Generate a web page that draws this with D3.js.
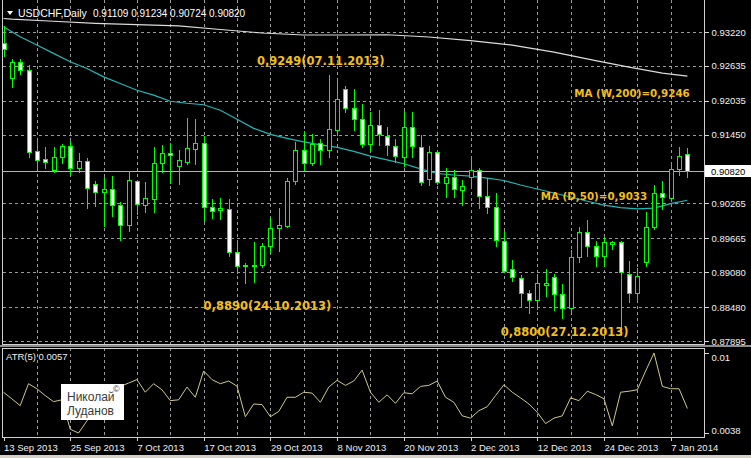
<!DOCTYPE html>
<meta charset="utf-8">
<style>
 body { margin: 0; background: #000; }
 .chart { display: block; font-family: "Liberation Sans", Arial, sans-serif; }
 .grid line { stroke: #9a9a9a; stroke-dasharray: 3,3; shape-rendering: crispEdges; }
 .axis text { fill: #f2f2f2; font-size: 9.5px; font-family: "Liberation Sans", Arial, sans-serif; }
 .axis line { stroke: #d8d8d8; shape-rendering: crispEdges; }
 .axis path { display: none; }
 .frame { stroke: #d0d0d0; fill: none; shape-rendering: crispEdges; }
 .wick, .body { stroke: #00ff00; shape-rendering: crispEdges; }
 .note { fill: #f2bf1c; font-family: "DejaVu Sans", sans-serif; font-weight: bold; }
</style>

<svg class="chart"></svg>

<script src="https://cdn.jsdelivr.net/npm/d3@7"></script>

<script>
 // USDCHF daily, 13 Sep 2013 - 9 Jan 2014
 var dates = [
  "2013-09-13","2013-09-16","2013-09-17","2013-09-18","2013-09-19","2013-09-20","2013-09-23","2013-09-24","2013-09-25","2013-09-26","2013-09-27","2013-09-30",
  "2013-10-01","2013-10-02","2013-10-03","2013-10-04","2013-10-07","2013-10-08","2013-10-09","2013-10-10","2013-10-11","2013-10-14","2013-10-15","2013-10-16",
  "2013-10-17","2013-10-18","2013-10-21","2013-10-22","2013-10-23","2013-10-24","2013-10-25","2013-10-28","2013-10-29","2013-10-30","2013-10-31",
  "2013-11-01","2013-11-04","2013-11-05","2013-11-06","2013-11-07","2013-11-08","2013-11-11","2013-11-12","2013-11-13","2013-11-14","2013-11-15","2013-11-18",
  "2013-11-19","2013-11-20","2013-11-21","2013-11-22","2013-11-25","2013-11-26","2013-11-27","2013-11-28","2013-11-29",
  "2013-12-02","2013-12-03","2013-12-04","2013-12-05","2013-12-06","2013-12-09","2013-12-10","2013-12-11","2013-12-12","2013-12-13","2013-12-16","2013-12-17",
  "2013-12-18","2013-12-19","2013-12-20","2013-12-23","2013-12-24","2013-12-26","2013-12-27","2013-12-30","2013-12-31",
  "2014-01-02","2014-01-03","2014-01-06","2014-01-07","2014-01-08","2014-01-09"];

 var open = [0.93030,0.92430,0.92696,0.92563,0.91162,0.91024,0.90834,0.91064,0.91249,0.90874,
  0.90995,0.90604,0.90459,0.90518,0.90241,0.89895,0.90644,0.90241,0.90345,0.90967,
  0.91128,0.90903,0.90977,0.91209,0.91306,0.90212,0.90160,0.90172,0.89433,0.89191,
  0.89191,0.89204,0.89525,0.89843,0.89871,0.90644,0.91180,0.90967,0.91313,0.91180,
  0.91526,0.92234,0.91911,0.91716,0.91296,0.91612,0.91427,0.91254,0.91064,0.91583,
  0.91237,0.90690,0.91150,0.90621,0.90718,0.90505,0.90718,0.90834,0.90402,0.90199,
  0.89624,0.89134,0.88989,0.88716,0.88600,0.88863,0.88996,0.88702,0.88465,0.89342,
  0.89767,0.89537,0.89352,0.89572,0.89606,0.89048,0.88719,0.89248,0.89854,0.90448,
  0.90355,0.90863,0.91109];

 var high = [0.93341,0.92765,0.92776,0.92662,0.91353,0.91254,0.91254,0.91306,0.91353,0.91150,
  0.91064,0.90678,0.90735,0.90748,0.90315,0.90834,0.90690,0.90644,0.91254,0.91296,
  0.91323,0.91197,0.91756,0.91745,0.91439,0.90355,0.90372,0.90355,0.89594,0.89248,
  0.89624,0.89594,0.90027,0.90199,0.90718,0.91335,0.91526,0.91486,0.91392,0.92490,
  0.92447,0.92304,0.92247,0.92005,0.91863,0.91889,0.91595,0.91392,0.91871,0.91854,
  0.91469,0.91278,0.91209,0.90891,0.90851,0.90690,0.91093,0.90891,0.90718,0.90459,
  0.89809,0.89307,0.89048,0.88789,0.89062,0.89148,0.89062,0.88897,0.89480,0.89871,
  0.89999,0.89641,0.89698,0.89641,0.89641,0.89295,0.89162,0.90142,0.90604,0.90661,
  0.90990,0.91254,0.91234];

 var low = [0.92805,0.92274,0.92489,0.91064,0.90851,0.90874,0.90805,0.90967,0.90748,0.90805,
  0.90182,0.90217,0.89883,0.90056,0.89641,0.89797,0.90085,0.90113,0.90125,0.90805,
  0.90626,0.90609,0.90950,0.90938,0.89969,0.90009,0.89999,0.89364,0.89065,0.88900,
  0.88920,0.89162,0.89411,0.89451,0.89854,0.90604,0.90834,0.90920,0.90950,0.91064,
  0.91439,0.91842,0.91526,0.91237,0.91180,0.91278,0.91093,0.90977,0.90908,0.91064,
  0.90575,0.90575,0.90604,0.90372,0.90372,0.90241,0.90528,0.90182,0.90103,0.89537,
  0.89088,0.88932,0.88500,0.88370,0.88451,0.88673,0.88431,0.88292,0.88413,0.89248,
  0.89364,0.89179,0.89179,0.89485,0.88000,0.88569,0.88586,0.89191,0.89826,0.90172,
  0.90315,0.90748,0.90724];

 var close = [0.92926,0.92706,0.92563,0.91150,0.91007,0.90977,0.91064,0.91249,0.90881,0.91002,
  0.90528,0.90459,0.90518,0.90241,0.89895,0.90678,0.90258,0.90355,0.90967,0.91133,
  0.91093,0.91007,0.91220,0.91306,0.90199,0.90130,0.90182,0.89421,0.89179,0.89209,
  0.89209,0.89537,0.89843,0.89895,0.90644,0.91180,0.90967,0.91296,0.91180,0.91555,
  0.92074,0.91911,0.91716,0.91296,0.91612,0.91469,0.91266,0.91081,0.91583,0.91254,
  0.90632,0.91150,0.90632,0.90718,0.90518,0.90563,0.90834,0.90402,0.90199,0.89641,
  0.89105,0.89001,0.88716,0.88600,0.88889,0.88889,0.88702,0.88465,0.89342,0.89767,
  0.89537,0.89352,0.89594,0.89606,0.89088,0.88730,0.89019,0.89854,0.90448,0.90372,
  0.90863,0.91081,0.90820];

 // ATR(5), one value per bar
 var atr = [0.00696,0.00645,0.00592,0.00762,0.00723,0.00670,0.00623,0.00637,0.00409,0.00380,
  0.00474,0.00540,0.00605,0.00670,0.00741,0.00767,0.00794,0.00696,0.00762,0.00715,
  0.00631,0.00637,0.00736,0.00657,0.00861,0.00794,0.00762,0.00783,0.00743,0.00506,
  0.00605,0.00600,0.00506,0.00547,0.00657,0.00657,0.00696,0.00689,0.00618,0.00736,
  0.00788,0.00749,0.00783,0.00867,0.00696,0.00618,0.00676,0.00610,0.00692,0.00684,
  0.00741,0.00749,0.00783,0.00657,0.00618,0.00513,0.00495,0.00553,0.00584,0.00670,
  0.00754,0.00696,0.00652,0.00605,0.00540,0.00453,0.00495,0.00513,0.00652,0.00631,
  0.00704,0.00678,0.00645,0.00435,0.00696,0.00704,0.00715,0.00861,0.01000,0.00741,
  0.00723,0.00723,0.00570];

 // MA(D,50) read every second bar
 var ma50Dates = ["2013-09-13","2013-09-17","2013-09-19","2013-09-23","2013-09-25","2013-09-27","2013-10-01","2013-10-03",
  "2013-10-07","2013-10-09","2013-10-11","2013-10-15","2013-10-17","2013-10-21","2013-10-23","2013-10-25","2013-10-29",
  "2013-10-31","2013-11-04","2013-11-06","2013-11-08","2013-11-12","2013-11-14","2013-11-18","2013-11-20","2013-11-22",
  "2013-11-26","2013-11-28","2013-12-02","2013-12-04","2013-12-06","2013-12-10","2013-12-12","2013-12-16","2013-12-18",
  "2013-12-20","2013-12-24","2013-12-27","2013-12-31","2014-01-03","2014-01-07","2014-01-09"];
 var ma50 = [0.93312,0.93139,0.92995,0.92852,0.92706,0.92592,0.92447,0.92333,
  0.92217,0.92131,0.92027,0.91992,0.91966,0.91871,0.91716,0.91560,0.91456,
  0.91387,0.91327,0.91275,0.91232,0.91162,0.91081,0.91016,0.90950,0.90860,
  0.90782,0.90756,0.90735,0.90701,0.90661,0.90583,0.90514,0.90445,0.90376,
  0.90303,0.90237,0.90194,0.90172,0.90186,0.90263,0.90320];

 // MA(W,200), one value per week
 var w200Dates = ["2013-09-13","2013-09-16","2013-09-23","2013-09-30","2013-10-07","2013-10-14","2013-10-21","2013-10-28",
  "2013-11-04","2013-11-11","2013-11-18","2013-11-25","2013-12-02","2013-12-09","2013-12-16","2013-12-23","2013-12-30",
  "2014-01-06","2014-01-09"];
 var w200 = [0.93453,0.93441,0.93405,0.93370,0.93348,0.93324,0.93263,0.93203,
  0.93168,0.93168,0.93173,0.93134,0.93070,0.92995,0.92874,0.92727,0.92615,
  0.92511,0.92460];

 var priceTicks = [0.93220,0.92635,0.92035,0.91450,0.90265,0.89665,0.89080,0.88480,0.87895];
 var atrTicks = [0.01, 0.0038];
 var timeTicks = ["2013-09-13","2013-09-25","2013-10-07","2013-10-17","2013-10-29","2013-11-08",
  "2013-11-20","2013-12-02","2013-12-12","2013-12-24","2014-01-07"];

 var width = 751, height = 458;
 var right = 704, mainBottom = 344, atrTop = 348, atrBottom = 437;

 var svg = d3.select(".chart").attr("width", width).attr("height", height);
 svg.append("rect").attr("width", width).attr("height", height).attr("fill", "#000");

 var x = d3.scalePoint().domain(dates).range([3.5, 3.5 + 8.34 * (dates.length - 1)]);
 var y = d3.scaleLinear().domain([0.87895, 0.93220]).range([341, 32]);
 var ya = d3.scaleLinear().domain([0.0038, 0.0100]).range([433, 353]);
 function cx(d) { return Math.round(x(d)) + 0.5; }
 function cy(v) { return Math.round(y(v)) + 0.5; }

 var bars = dates.map(function(d, i) {
     return {date: d, o: open[i], h: high[i], l: low[i], c: close[i], atr: atr[i]};
 });
 var last = bars[bars.length - 1];

 // grid
 var gridDates = dates.filter(function(d, i) { return i > 0 && i % 4 == 0; });
 var grid = svg.append("g").attr("class", "grid");
 grid.selectAll(".hg").data(priceTicks).enter().append("line")
     .attr("x1", 3).attr("x2", right).attr("y1", cy).attr("y2", cy);
 grid.selectAll(".vg").data(gridDates).enter().append("line")
     .attr("x1", cx).attr("x2", cx).attr("y1", 0).attr("y2", mainBottom);
 grid.selectAll(".vga").data(gridDates).enter().append("line")
     .attr("x1", cx).attr("x2", cx).attr("y1", atrTop).attr("y2", atrBottom);

 // bid line
 svg.append("line").attr("x1", 3).attr("x2", right)
     .attr("y1", cy(last.c)).attr("y2", cy(last.c))
     .attr("stroke", "#b4b4b4").attr("shape-rendering", "crispEdges");

 // moving averages
 var maLine = d3.line().x(function(d) { return x(d[0]); }).y(function(d) { return y(d[1]); });
 svg.append("path").datum(d3.zip(w200Dates, w200)).attr("d", maLine)
     .attr("fill", "none").attr("stroke", "#dcdcdc").attr("stroke-width", 1.2);
 svg.append("path").datum(d3.zip(ma50Dates, ma50)).attr("d", maLine)
     .attr("fill", "none").attr("stroke", "#22b8b8").attr("stroke-width", 1.2);

 // candles
 var candle = svg.append("g").selectAll("g").data(bars).enter().append("g");
 candle.append("line").attr("class", "wick")
     .attr("x1", function(d) { return cx(d.date); })
     .attr("x2", function(d) { return cx(d.date); })
     .attr("y1", function(d) { return cy(d.h); })
     .attr("y2", function(d) { return cy(d.l); });
 candle.append("path").attr("class", "body")
     .attr("d", function(d) {
         var x0 = cx(d.date) - 2, top = cy(Math.max(d.o, d.c)), bot = cy(Math.min(d.o, d.c));
         return "M" + x0 + "," + top + "h4V" + bot + "h-4Z";
     })
     .attr("fill", function(d) { return d.c >= d.o ? "#000" : "#fff"; });

 // frames and splitter
 svg.append("path").attr("class", "frame")
     .attr("d", "M2.5,0V" + (mainBottom + 0.5) + "H" + (right + 0.5) + "V0");
 svg.append("rect").attr("x", 0).attr("y", mainBottom + 1).attr("width", width).attr("height", 2)
     .attr("fill", "#8c8c8c");
 svg.append("rect").attr("class", "frame").attr("x", 2.5).attr("y", atrTop + 0.5)
     .attr("width", right - 2).attr("height", atrBottom - atrTop);

 // price axis
 svg.append("g").attr("class", "axis").attr("transform", "translate(" + (right + 0.5) + ",0)")
     .call(d3.axisRight(y).tickValues(priceTicks).tickSize(4).tickFormat(d3.format(".5f")));

 // current price box
 svg.append("rect").attr("x", right + 1).attr("y", cy(last.c) - 6.5).attr("width", 46).attr("height", 12)
     .attr("fill", "#fff");
 svg.append("text").attr("x", right + 7).attr("y", cy(last.c) + 3.5)
     .attr("font-size", "9.5px").attr("fill", "#000").text(d3.format(".5f")(last.c));

 // ATR
 svg.append("path").datum(bars)
     .attr("d", d3.line().x(function(d) { return x(d.date); }).y(function(d) { return ya(d.atr); }))
     .attr("fill", "none").attr("stroke", "#cfc890").attr("stroke-width", 1);
 var atrAxis = svg.append("g").attr("class", "axis").attr("transform", "translate(" + (right + 0.5) + ",0)")
     .call(d3.axisRight(ya).tickValues(atrTicks).tickSize(4).tickFormat(String));
 atrAxis.selectAll("text").attr("dy", function(d) { return d == 0.01 ? "0.75em" : "0em"; });
 svg.append("text").attr("x", 6).attr("y", 360).attr("font-size", "9.5px").attr("fill", "#eee")
     .text("ATR(5) " + d3.format(".4f")(last.atr));

 // time axis
 var parse = d3.timeParse("%Y-%m-%d"), fmt = d3.timeFormat("%-d %b %Y");
 var tAxis = svg.append("g").attr("class", "axis").attr("transform", "translate(0," + (atrBottom + 0.5) + ")")
     .call(d3.axisBottom(x).tickValues(timeTicks).tickSize(3).tickFormat(function(d) { return fmt(parse(d)); }));
 tAxis.selectAll("text").attr("text-anchor", "start").attr("y", 7);

 svg.append("rect").attr("x", 0).attr("y", 455).attr("width", width).attr("height", 3).attr("fill", "#d4d0c8");

 // header
 svg.append("path").attr("d", "M7,11H13L10,15Z").attr("fill", "#fff");
 svg.append("text").attr("x", 18).attr("y", 17).attr("font-size", "10.5px").attr("fill", "#fff").text("USDCHF,Daily");
 svg.append("text").attr("x", 93).attr("y", 17).attr("font-size", "10px").attr("fill", "#fff")
     .text([last.o, last.h, last.l, last.c].map(d3.format(".5f")).join(" "));

 // annotations
 var comma = function(v) { return d3.format(".4f")(v).replace(".", ","); };
 var dmy = d3.timeFormat("%d.%m.%Y");
 var notes = [
     {t: comma(0.9249) + "(" + dmy(parse("2013-11-07")) + ")", x: x("2013-11-07") - 8, y: y(0.9249) - 9, s: 11.5},
     {t: comma(0.8890) + "(" + dmy(parse("2013-10-24")) + ")", x: x("2013-10-24") + 22, y: y(0.8890) + 27, s: 11.5},
     {t: comma(0.8800) + "(" + dmy(parse("2013-12-27")) + ")", x: x("2013-12-27") - 56, y: y(0.8800) + 1, s: 11.5},
     {t: "MA (W,200)=" + comma(w200[w200.length - 1]), x: 632, y: y(w200[w200.length - 1]) + 21, s: 10.3},
     {t: "MA (D,50)=" + comma(0.9033), x: 594, y: y(0.9033), s: 10.3}
 ];
 svg.selectAll(".note").data(notes).enter().append("text").attr("class", "note")
     .attr("x", function(d) { return d.x; }).attr("y", function(d) { return d.y; })
     .attr("text-anchor", "middle").attr("font-size", function(d) { return d.s + "px"; })
     .text(function(d) { return d.t; });

 // author stamp
 svg.append("rect").attr("x", 61).attr("y", 384).attr("width", 63).attr("height", 36).attr("fill", "#fff");
 svg.append("text").attr("x", 67).attr("y", 401).attr("font-size", "12px").attr("fill", "#3a3a3a").text("Николай");
 svg.append("text").attr("x", 113).attr("y", 392).attr("font-size", "9px").attr("fill", "#3a3a3a").text("©");
 svg.append("text").attr("x", 67).attr("y", 415).attr("font-size", "12px").attr("fill", "#3a3a3a").text("Луданов");
</script>
